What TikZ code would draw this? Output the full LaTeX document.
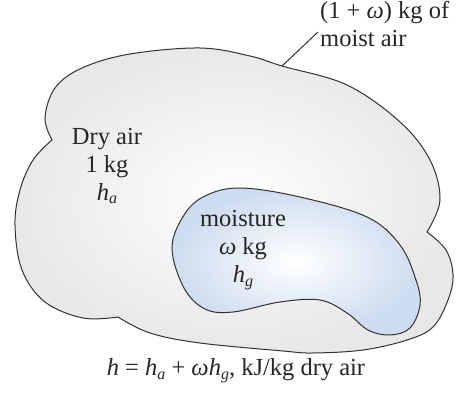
\documentclass[tikz,border=0pt]{standalone}
\usepackage{fontspec}
\setmainfont{Liberation Serif}
\definecolor{edgegray}{RGB}{232,232,232}
\definecolor{edgeblue}{RGB}{205,220,240}
\definecolor{lineclr}{RGB}{50,50,50}
\newcommand\lsub[1]{\raisebox{-0.35ex}{\fontsize{16}{16}\selectfont\textit{#1}}}
\begin{document}
\begin{tikzpicture}[x=1pt,y=-1pt,
  outline/.style={draw=lineclr,line width=1pt},
  lbl/.style={font=\fontsize{24.5}{28}\selectfont,text=black!85,align=center,inner sep=0pt}]
\useasboundingbox (0,0) rectangle (459,393);
% outer cloud
\path[outline,inner color=white,outer color=edgegray]
  plot[smooth,tension=0.6] coordinates {(52,140) (45,118) (55,88) (82,68) (130,54) (200,48) (250,56) (282,66) (347,85) (400,122) (430,160) (440,200) (427,232)}
  -- plot[smooth,tension=0.6] coordinates {(427,232) (446,250) (453,275) (448,300) (433,327) (407,340) (363,350) (313,353) (283,351) (200,343) (150,333) (118,317)}
  -- plot[smooth,tension=0.6] coordinates {(118,317) (83,318) (45,302) (22,270) (15,225) (20,190) (33,160) (52,140)}
  -- cycle;
% inner moisture
\path[outline,inner color=white,outer color=edgeblue]
  plot[smooth cycle,tension=0.6] coordinates {(172,248) (184,215) (205,196) (240,188) (300,197) (367,217) (400,245) (416,280) (420,305) (410,328) (390,335) (368,330) (347,313) (320,300) (280,302) (233,312) (205,309) (184,288)};
% leader
\coordinate (tip) at (282,66);
\node[lbl,anchor=north west,align=left] (moist) at (320,1) {(1 + \textit{ω}) kg of\\moist air};
\draw[lineclr,line width=1pt] (tip) -- (318,32);
% labels
\node[lbl] (dry) at (107,166) {Dry air\\1 kg\\\textit{h}\lsub{a}};
\node[lbl] (moi) at (243,250) {moisture\\\textit{ω} kg\\\textit{h}\lsub{g}};
\node[lbl,anchor=center] (eq) at (236,371) {\textit{h} = \textit{h}\lsub{a} + \textit{ωh}\lsub{g}, kJ/kg dry air};
\end{tikzpicture}
\end{document}
